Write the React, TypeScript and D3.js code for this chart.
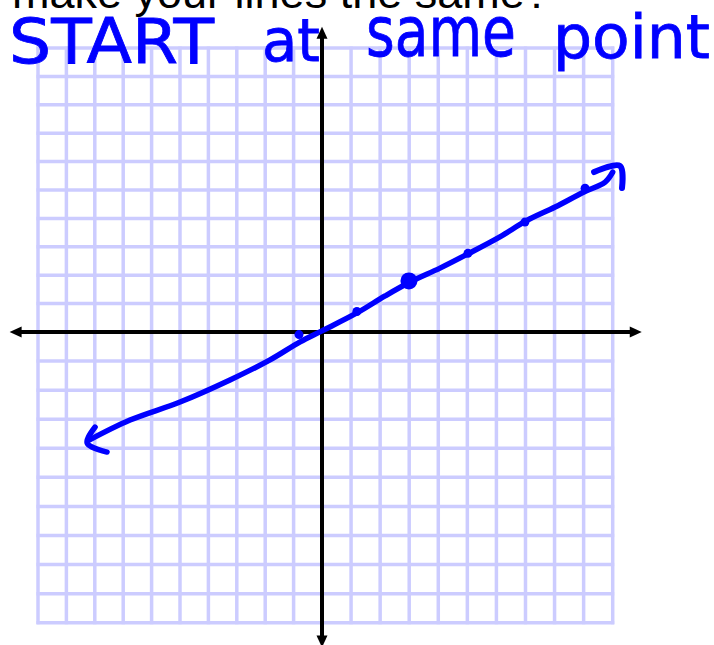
import React from "react";
import * as d3 from "d3";

const W = 714;
const H = 645;

// Grid runs from -10 to 10 in both directions (one unit per cell)
const gridTicks: number[] = d3.range(-10, 11);

// Hand-drawn line through the origin, in grid units
const lineX = [-8.2, -6.76, -5.0, -3.24, -1.83, -0.77, 0, 1.2, 2.17, 3.03, 4.06, 5.02, 6.12, 7.02, 8.02, 9.01, 9.74, 10.0];
const lineY = [-3.72, -3.03, -2.41, -1.65, -0.96, -0.34, 0.04, 0.67, 1.27, 1.76, 2.25, 2.75, 3.35, 3.91, 4.4, 4.93, 5.28, 5.63];

// Arrow strokes at both ends of the hand-drawn line
const headRightX = [9.36, 10.25, 10.32];
const headRightY = [5.63, 5.85, 5.07];
const headLeftX = [-7.99, -8.27, -7.57];
const headLeftY = [-3.27, -3.82, -4.13];

// Plotted points along the line
const dotX = [-0.81, 1.2, 2.99, 5.02, 6.98, 9.05];
const dotY = [-0.09, 0.72, 1.8, 2.77, 3.87, 5.06];
const dotBig = [false, false, true, false, false, false];

// Axis extents (beyond the grid, ending in arrow tips)
const xAxisExtent = [-11.0, 11.0];
const yAxisExtent = [-10.85, 10.75];

const caption = "make your lines the same?";
const noteWords = ["START", "at", "same", "point"];

const BLUE = "#0000ff";

export default function App() {
  const x = d3.scaleLinear().domain([-10, 0, 10]).range([38, 322, 612.7]);
  const y = d3.scaleLinear().domain([-10, 0, 10]).range([622.7, 332, 48]);

  const zip = (xs: number[], ys: number[]) => xs.map((v, i) => [v, ys[i]] as [number, number]);

  const stroke = d3
    .line<[number, number]>()
    .x((d) => x(d[0]))
    .y((d) => y(d[1]))
    .curve(d3.curveCatmullRom.alpha(0.5));

  const x0 = x(0);
  const y0 = y(0);
  const ax1 = x(xAxisExtent[0]);
  const ax2 = x(xAxisExtent[1]);
  const ay1 = y(yAxisExtent[1]);
  const ay2 = y(yAxisExtent[0]);
  const aL = 12;
  const aW = 5.5;

  // handwritten note layout
  const noteLayout = [
    { x: 9, len: 205, size: 62, base: 63 },
    { x: 262, len: 58, size: 58, base: 61 },
    { x: 366, len: 150, size: 70, base: 56 },
    { x: 553, len: 157, size: 60, base: 58 },
  ];

  return (
    <svg
      width={W}
      height={H}
      style={{ position: "absolute", left: 0, top: 0, background: "#fff" }}
    >
      {/* graph paper */}
      <g>
        {gridTicks.map((t) => (
          <line
            key={"v" + t}
            x1={x(t)}
            x2={x(t)}
            y1={y(-10) + 1.5}
            y2={y(10) - 1.5}
            stroke="#ccccff"
            strokeWidth={3.5}
          />
        ))}
        {gridTicks.map((t) => (
          <line
            key={"h" + t}
            x1={x(-10) - 1.5}
            x2={x(10) + 1.5}
            y1={y(t)}
            y2={y(t)}
            stroke="#ccccff"
            strokeWidth={3.5}
          />
        ))}
      </g>

      {/* axes */}
      <g fill="#000" stroke="#000">
        <line x1={ax1 + 6} x2={ax2 - 6} y1={y0} y2={y0} strokeWidth={4} />
        <line x1={x0} x2={x0} y1={ay1 + 6} y2={ay2 - 6} strokeWidth={4} />
        <path stroke="none" d={`M${ax1},${y0} L${ax1 + aL},${y0 - aW} L${ax1 + aL},${y0 + aW} Z`} />
        <path stroke="none" d={`M${ax2},${y0} L${ax2 - aL},${y0 - aW} L${ax2 - aL},${y0 + aW} Z`} />
        <path stroke="none" d={`M${x0},${ay1} L${x0 - aW},${ay1 + aL} L${x0 + aW},${ay1 + aL} Z`} />
        <path stroke="none" d={`M${x0},${ay2} L${x0 - aW},${ay2 - aL} L${x0 + aW},${ay2 - aL} Z`} />
      </g>

      {/* hand-drawn line */}
      <g fill="none" stroke={BLUE} strokeLinecap="round" strokeLinejoin="round">
        <path d={stroke(zip(lineX, lineY)) || ""} strokeWidth={5.5} />
        <path d={stroke(zip(headRightX, headRightY)) || ""} strokeWidth={6} />
        <path d={stroke(zip(headLeftX, headLeftY)) || ""} strokeWidth={5.5} />
      </g>
      <g fill={BLUE}>
        {dotX.map((v, i) => (
          <circle key={i} cx={x(v)} cy={y(dotY[i])} r={dotBig[i] ? 8.5 : 4.5} />
        ))}
      </g>

      {/* caption (top line clipped by the page edge) */}
      <text
        x={12}
        y={8}
        fontFamily="'Liberation Sans', Arial, sans-serif"
        fontSize={45}
        fill="#000"
      >
        {caption}
      </text>

      {/* handwritten note */}
      <g fill={BLUE} stroke={BLUE} strokeWidth={0.8} fontFamily="'DejaVu Sans', sans-serif">
        {noteWords.map((w, i) => (
          <text
            key={w}
            x={noteLayout[i].x}
            y={noteLayout[i].base}
            fontSize={noteLayout[i].size}
            textLength={noteLayout[i].len}
            lengthAdjust="spacingAndGlyphs"
          >
            {w}
          </text>
        ))}
      </g>
    </svg>
  );
}
